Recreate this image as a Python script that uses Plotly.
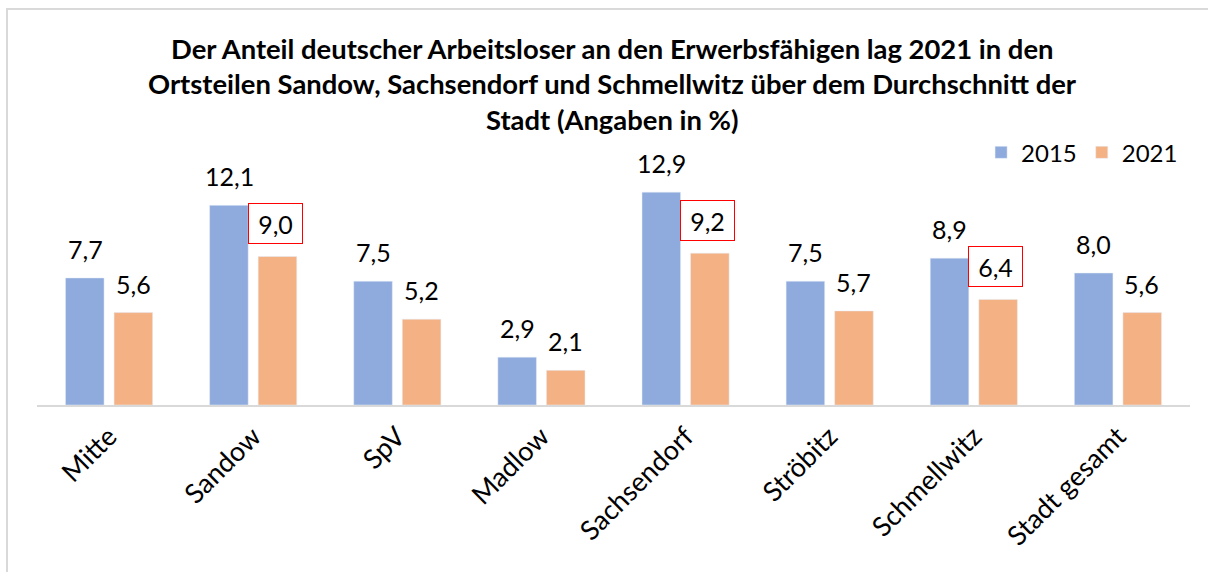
import plotly.graph_objects as go

categories = ["Mitte", "Sandow", "SpV", "Madlow", "Sachsendorf", "Ströbitz", "Schmellwitz", "Stadt gesamt"]
values_2015 = [7.7, 12.1, 7.5, 2.9, 12.9, 7.5, 8.9, 8.0]
values_2021 = [5.6, 9.0, 5.2, 2.1, 9.2, 5.7, 6.4, 5.6]
highlight_2021 = ["Sandow", "Sachsendorf", "Schmellwitz"]
series_names = ["2015", "2021"]
title_lines = [
    "Der Anteil deutscher Arbeitsloser an den Erwerbsfähigen lag 2021 in den",
    "Ortsteilen Sandow, Sachsendorf und Schmellwitz über dem Durchschnitt der",
    "Stadt (Angaben in %)",
]

FONT = "Lato"
BLUE = "#8FAADC"
ORANGE = "#F4B183"

def fmt(v):
    return f"{v:.1f}".replace(".", ",")

fig = go.Figure()
fig.add_trace(go.Bar(x=categories, y=values_2015, name=series_names[0], marker_color=BLUE))
fig.add_trace(go.Bar(x=categories, y=values_2021, name=series_names[1], marker_color=ORANGE))

LBL = 25
annotations = []
for c, v in zip(categories, values_2015):
    annotations.append(dict(x=c, y=v, xref="x", yref="y", text=fmt(v), showarrow=False,
                            xshift=-24, yshift=29, yanchor="middle",
                            font=dict(family=FONT, size=LBL, color="black")))
for c, v in zip(categories, values_2021):
    if c in highlight_2021:
        annotations.append(dict(x=c, y=v, xref="x", yref="y", text=fmt(v), showarrow=False,
                                xshift=22, yshift=33, yanchor="middle",
                                bordercolor="#FF0000", borderwidth=1, borderpad=6,
                                width=41, height=27,
                                font=dict(family=FONT, size=LBL, color="black")))
    else:
        annotations.append(dict(x=c, y=v, xref="x", yref="y", text=fmt(v), showarrow=False,
                                xshift=24, yshift=29, yanchor="middle",
                                font=dict(family=FONT, size=LBL, color="black")))

title_y = [1.545, 1.39, 1.234]
for t, y in zip(title_lines, title_y):
    annotations.append(dict(x=0.4987, y=y, xref="paper", yref="paper", text=f"<b>{t}</b>",
                            showarrow=False, xanchor="center", yanchor="middle",
                            font=dict(family=FONT, size=27.4, color="black")))

fig.update_layout(
    width=1208, height=572,
    margin=dict(l=37, r=18, t=174, b=167, autoexpand=False),
    paper_bgcolor="white", plot_bgcolor="white",
    barmode="group", bargap=0.326, bargroupgap=0.206,
    showlegend=True,
    legend=dict(orientation="h", x=0.994, xanchor="right", y=1.092, yanchor="middle",
                font=dict(family=FONT, size=24, color="black"), itemwidth=30,
                bgcolor="rgba(0,0,0,0)"),
    annotations=annotations,
    shapes=[dict(type="rect", xref="paper", yref="paper", x0=-0.026, x1=1.2, y0=-1.5, y1=1.714,
                 line=dict(color="#D9D9D9", width=2), layer="below")],
    xaxis=dict(showline=True, linecolor="#D9D9D9", linewidth=2, tickangle=-45,
               tickfont=dict(family=FONT, size=27, color="black"), showgrid=False,
               ticks="", fixedrange=True, automargin=False, ticklabelstandoff=3),
    yaxis=dict(range=[0, 14], visible=False, showgrid=False, zeroline=False, automargin=False),
)

fig.write_html("out.html", config={"displayModeBar": False},
               post_script="document.body.style.margin='0';document.body.style.overflow='hidden';")
